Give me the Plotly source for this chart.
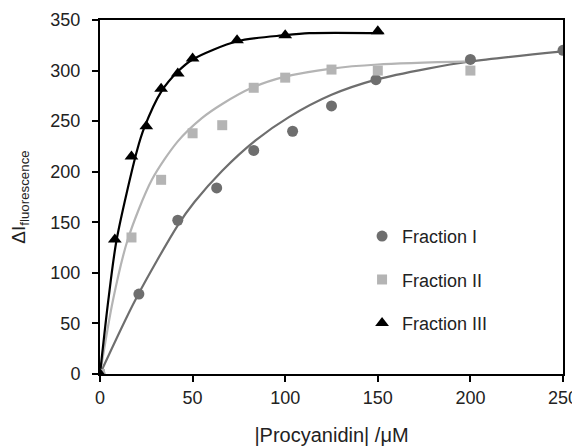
import plotly.graph_objects as go

# Measured data points
f1_x = [0, 21, 42, 63, 83, 104, 125, 149, 200, 250]
f1_y = [0, 79, 152, 184, 221, 240, 265, 291, 311, 320]
f2_x = [0, 17, 33, 50, 66, 83, 100, 125, 150, 200]
f2_y = [0, 135, 192, 238, 246, 283, 293, 301, 300, 300]
f3_x = [0, 8, 17, 25, 33, 42, 50, 74, 100, 150]
f3_y = [0, 133, 215, 245, 282, 297, 312, 330, 335, 339]

# Fitted curves
c1_x = [0, 19, 42, 51, 66, 84, 102, 125, 149, 177, 200, 250]
c1_y = [0, 73, 147, 170, 201, 231, 254, 276, 291, 302, 309, 319]
c2_x = [0, 7, 15, 28, 42, 55, 66, 82, 100, 125, 150, 200]
c2_y = [0, 73, 133, 192, 230, 253, 267, 283, 294, 302, 306, 309]
c3_x = [0, 4.5, 9, 20, 24, 33, 42, 50, 74, 100, 113, 153]
c3_y = [0, 73, 133, 221, 244, 279, 299, 311, 329, 335, 337, 337]

x_ticks = [0, 50, 100, 150, 200, 250]
y_ticks = [0, 50, 100, 150, 200, 250, 300, 350]

C1 = "#6e6e6e"
C2 = "#b4b4b4"
C3 = "#000000"
FONT = "Arial, Liberation Sans, sans-serif"

fig = go.Figure()
for cx, cy, col in [(c1_x, c1_y, C1), (c2_x, c2_y, C2), (c3_x, c3_y, C3)]:
    fig.add_trace(go.Scatter(x=cx, y=cy, mode="lines",
                             line=dict(color=col, width=2.2, shape="spline", smoothing=0.8),
                             showlegend=False, hoverinfo="skip"))

fig.add_trace(go.Scatter(x=f1_x, y=f1_y, mode="markers", name="Fraction I", legendgroup="a",
                         marker=dict(symbol="circle", size=11, color=C1)))
fig.add_trace(go.Scatter(x=f2_x, y=f2_y, mode="markers", name="Fraction II", legendgroup="b",
                         marker=dict(symbol="square", size=10, color=C2)))
fig.add_trace(go.Scatter(x=f3_x, y=f3_y, mode="markers", name="Fraction III", legendgroup="c",
                         marker=dict(symbol="triangle-up", size=12, color=C3)))

# page body adds an 8px margin, so the figure is 8px smaller and margins compensate
fig.update_layout(
    width=572, height=438,
    margin=dict(l=92, r=17, t=12, b=72),
    paper_bgcolor="white", plot_bgcolor="white",
    font=dict(family=FONT, size=18, color="#222222"),
    legend=dict(x=0.566, y=0.441, xanchor="left", yanchor="top", tracegroupgap=17,
                bgcolor="rgba(0,0,0,0)", font=dict(size=18, color="#222222")),
    xaxis=dict(range=[0, 250], tickvals=x_ticks, showgrid=False, zeroline=False,
               showline=True, linecolor="black", linewidth=2, mirror=True,
               ticks="outside", ticklen=6, tickwidth=2, tickcolor="black",
               ticklabelstandoff=0, automargin=False,
               title=dict(text="|Procyanidin| /μM", standoff=23, font=dict(size=20))),
    yaxis=dict(range=[0, 350], tickvals=y_ticks, showgrid=False, zeroline=False,
               showline=True, linecolor="black", linewidth=2, mirror=True,
               ticks="outside", ticklen=6, tickwidth=2, tickcolor="black",
               ticklabelstandoff=8, automargin=False,
               title=dict(text="ΔI<sub>fluorescence</sub>", standoff=23, font=dict(size=19))),
)

fig.write_html("out.html")
